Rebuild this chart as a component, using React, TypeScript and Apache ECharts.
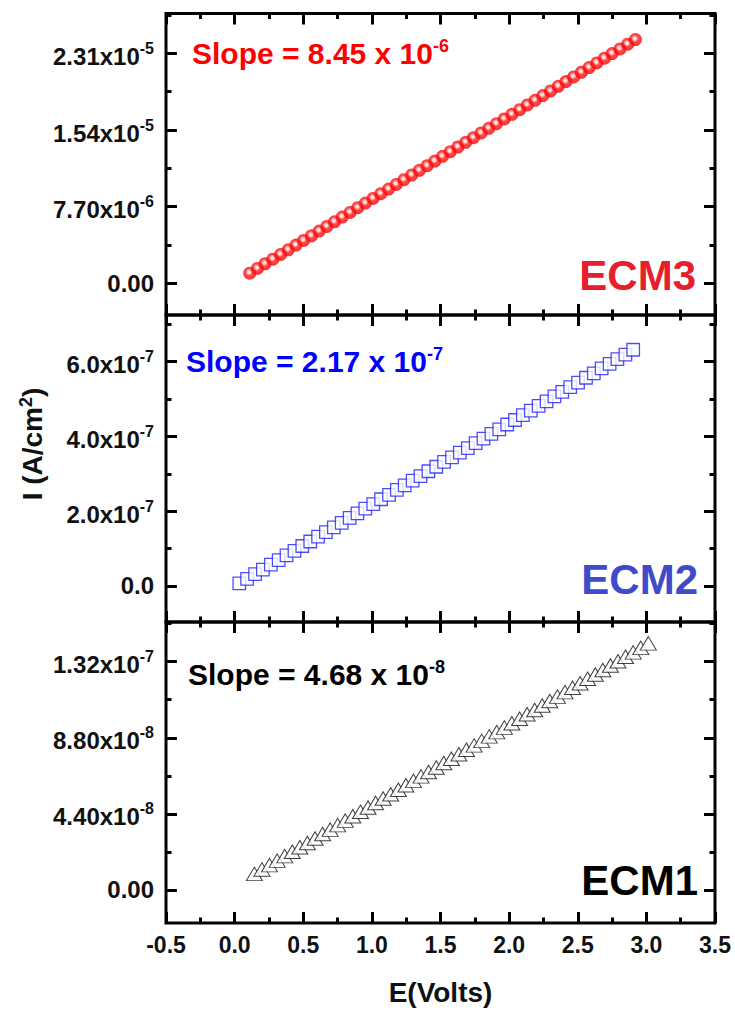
import React, { useEffect, useRef } from "react";
import * as echarts from "echarts";

const FONT = "'Liberation Sans', Arial, Helvetica, sans-serif";

// ---------- shared x axis ----------
const xMin = -0.5;
const xMax = 3.5;
const xStep = 0.5;
const xTickLabels = ["-0.5", "0.0", "0.5", "1.0", "1.5", "2.0", "2.5", "3.0", "3.5"];
const xTitle = "E(Volts)";

// ---------- ECM3 (top panel, red circles) ----------
const ecm3Volts = [
  0.110, 0.166, 0.222, 0.279, 0.335, 0.391, 0.447, 0.503, 0.560, 0.616,
  0.672, 0.728, 0.784, 0.841, 0.897, 0.953, 1.009, 1.065, 1.122, 1.178,
  1.234, 1.290, 1.346, 1.403, 1.459, 1.515, 1.571, 1.627, 1.684, 1.740,
  1.796, 1.852, 1.908, 1.965, 2.021, 2.077, 2.133, 2.189, 2.246, 2.302,
  2.358, 2.414, 2.470, 2.527, 2.583, 2.639, 2.695, 2.751, 2.808, 2.864, 2.920,
];
// current in units of 1e-6 A/cm2
const ecm3Current = [
  1.00, 1.47, 1.94, 2.41, 2.88, 3.35, 3.82, 4.29, 4.76, 5.23,
  5.70, 6.17, 6.64, 7.11, 7.58, 8.05, 8.52, 8.99, 9.46, 9.93,
  10.40, 10.87, 11.34, 11.81, 12.28, 12.75, 13.22, 13.69, 14.16, 14.63,
  15.10, 15.57, 16.04, 16.51, 16.98, 17.45, 17.92, 18.39, 18.86, 19.33,
  19.80, 20.27, 20.74, 21.21, 21.68, 22.15, 22.62, 23.09, 23.56, 24.03, 24.50,
];
const ecm3Unit = 1e-6;
const ecm3YMin = -3.21e-6;
const ecm3YMax = 2.712e-5;
const ecm3Ticks = [0, 7.7e-6, 1.54e-5, 2.31e-5];
const ecm3TickText = ["0.00", "7.70x10", "1.54x10", "2.31x10"];
const ecm3TickExp = ["", "-6", "-5", "-5"];
const ecm3MinorTicks = [3.85e-6, 1.155e-5, 1.925e-5, 2.695e-5];
const ecm3Slope = ["Slope = 8.45 x 10", "-6"];
const ecm3Name = "ECM3";

// ---------- ECM2 (middle panel, blue open squares) ----------
const ecm2Volts = [
  0.034, 0.091, 0.149, 0.206, 0.264, 0.321, 0.378, 0.436, 0.493, 0.551,
  0.608, 0.665, 0.723, 0.780, 0.838, 0.895, 0.952, 1.010, 1.067, 1.125,
  1.182, 1.239, 1.297, 1.354, 1.412, 1.469, 1.526, 1.584, 1.641, 1.699,
  1.756, 1.813, 1.871, 1.928, 1.986, 2.043, 2.100, 2.158, 2.215, 2.273,
  2.330, 2.387, 2.445, 2.502, 2.560, 2.617, 2.674, 2.732, 2.789, 2.847, 2.904,
];
// current in units of 1e-7 A/cm2
const ecm2Current = [
  0.07, 0.19, 0.32, 0.44, 0.57, 0.69, 0.82, 0.94, 1.07, 1.19,
  1.32, 1.44, 1.57, 1.69, 1.82, 1.94, 2.07, 2.19, 2.32, 2.44,
  2.57, 2.69, 2.82, 2.94, 3.07, 3.19, 3.32, 3.44, 3.57, 3.69,
  3.82, 3.94, 4.07, 4.19, 4.32, 4.44, 4.57, 4.69, 4.82, 4.94,
  5.07, 5.19, 5.32, 5.44, 5.57, 5.69, 5.82, 5.94, 6.07, 6.19, 6.32,
];
const ecm2Unit = 1e-7;
const ecm2YMin = -0.963e-7;
const ecm2YMax = 7.249e-7;
const ecm2Ticks = [0, 2e-7, 4e-7, 6e-7];
const ecm2TickText = ["0.0", "2.0x10", "4.0x10", "6.0x10"];
const ecm2TickExp = ["", "-7", "-7", "-7"];
const ecm2MinorTicks = [1e-7, 3e-7, 5e-7, 7e-7];
const ecm2Slope = ["Slope = 2.17 x 10", "-7"];
const ecm2Name = "ECM2";

// ---------- ECM1 (bottom panel, black open triangles) ----------
const ecm1Volts = [
  0.144, 0.199, 0.254, 0.310, 0.365, 0.420, 0.475, 0.530, 0.586, 0.641,
  0.696, 0.751, 0.806, 0.861, 0.917, 0.972, 1.027, 1.082, 1.137, 1.193,
  1.248, 1.303, 1.358, 1.413, 1.469, 1.524, 1.579, 1.634, 1.689, 1.745,
  1.800, 1.855, 1.910, 1.965, 2.020, 2.076, 2.131, 2.186, 2.241, 2.296,
  2.352, 2.407, 2.462, 2.517, 2.572, 2.628, 2.683, 2.738, 2.793, 2.848,
  2.904, 2.959, 3.014,
];
// current in units of 1e-8 A/cm2
const ecm1Current = [
  0.93, 1.19, 1.44, 1.70, 1.96, 2.21, 2.47, 2.72, 2.98, 3.24,
  3.49, 3.75, 4.01, 4.26, 4.52, 4.77, 5.03, 5.29, 5.54, 5.80,
  6.06, 6.31, 6.57, 6.82, 7.08, 7.34, 7.59, 7.85, 8.11, 8.36,
  8.62, 8.88, 9.13, 9.39, 9.64, 9.90, 10.16, 10.41, 10.67, 10.93,
  11.18, 11.44, 11.69, 11.95, 12.21, 12.46, 12.72, 12.98, 13.23, 13.49,
  13.74, 14.00, 14.26,
];
const ecm1Unit = 1e-8;
const ecm1YMin = -1.908e-8;
const ecm1YMax = 1.5495e-7;
const ecm1Ticks = [0, 4.4e-8, 8.8e-8, 1.32e-7];
const ecm1TickText = ["0.00", "4.40x10", "8.80x10", "1.32x10"];
const ecm1TickExp = ["", "-8", "-8", "-7"];
const ecm1MinorTicks = [2.2e-8, 6.6e-8, 1.1e-7, 1.54e-7];
const ecm1Slope = ["Slope = 4.68 x 10", "-8"];
const ecm1Name = "ECM1";

// ---------- layout / style ----------
const GRID_LEFT = 166;
const GRID_WIDTH = 549;
const panelLayout = [
  { top: 13.5, height: 301.5 },
  { top: 315, height: 307 },
  { top: 622, height: 301 },
];

const panels = [
  {
    volts: ecm3Volts, current: ecm3Current, unit: ecm3Unit, yMin: ecm3YMin, yMax: ecm3YMax,
    ticks: ecm3Ticks, tickText: ecm3TickText, tickExp: ecm3TickExp, minor: ecm3MinorTicks,
    slope: ecm3Slope, name: ecm3Name,
  },
  {
    volts: ecm2Volts, current: ecm2Current, unit: ecm2Unit, yMin: ecm2YMin, yMax: ecm2YMax,
    ticks: ecm2Ticks, tickText: ecm2TickText, tickExp: ecm2TickExp, minor: ecm2MinorTicks,
    slope: ecm2Slope, name: ecm2Name,
  },
  {
    volts: ecm1Volts, current: ecm1Current, unit: ecm1Unit, yMin: ecm1YMin, yMax: ecm1YMax,
    ticks: ecm1Ticks, tickText: ecm1TickText, tickExp: ecm1TickExp, minor: ecm1MinorTicks,
    slope: ecm1Slope, name: ecm1Name,
  },
];

const slopeStyle = [
  { x: 192, y: 53, color: "#ff0000" },
  { x: 186, y: 361, color: "#0000ff" },
  { x: 188, y: 674, color: "#000000" },
];
const nameStyle = [
  { x: 696, y: 275, color: "#e5202a" },
  { x: 698, y: 579, color: "#3e4bcb" },
  { x: 698, y: 880, color: "#000000" },
];

const seriesStyle: any[] = [
  {
    symbol: "circle",
    symbolSize: 13,
    itemStyle: {
      color: {
        type: "radial", x: 0.45, y: 0.42, r: 0.6,
        colorStops: [
          { offset: 0, color: "#ffffff" },
          { offset: 0.2, color: "#ffc0c0" },
          { offset: 0.45, color: "#ff1a1a" },
          { offset: 1, color: "#f00000" },
        ],
      },
      borderWidth: 0,
    },
  },
  {
    symbol: "rect",
    symbolSize: 12.5,
    itemStyle: { color: "#ffffff", borderColor: "#1f1fff", borderWidth: 1.3 },
  },
  {
    symbol: "triangle",
    symbolSize: [16, 13.5],
    itemStyle: { color: "#ffffff", borderColor: "#111111", borderWidth: 1 },
  },
];

const TICK_W = 3;
const MAJOR_LEN = 11;
const MINOR_LEN = 5.5;

function buildOption() {
  const grids: any[] = [];
  const xAxes: any[] = [];
  const yAxes: any[] = [];
  const series: any[] = [];
  const graphics: any[] = [];

  panels.forEach((p, i) => {
    grids.push({
      left: GRID_LEFT,
      width: GRID_WIDTH,
      top: panelLayout[i].top,
      height: panelLayout[i].height,
      show: true,
      borderWidth: 3,
      borderColor: "#000",
      backgroundColor: "transparent",
      containLabel: false,
    });

    const xBase = (pos: string, showLabel: boolean) => ({
      type: "value",
      gridIndex: i,
      position: pos,
      min: xMin,
      max: xMax,
      interval: xStep,
      axisLine: { show: false, onZero: false },
      axisTick: { show: true, inside: true, length: MAJOR_LEN, lineStyle: { color: "#000", width: TICK_W } },
      minorTick: { show: true, splitNumber: 2, length: MINOR_LEN, lineStyle: { color: "#000", width: TICK_W } },
      splitLine: { show: false },
      minorSplitLine: { show: false },
      axisLabel: {
        show: showLabel,
        margin: 10,
        fontFamily: FONT,
        fontWeight: "bold",
        fontSize: 23,
        color: "#111",
        formatter: (v: number) => {
          const k = Math.round((v - xMin) / xStep);
          return xTickLabels[k] ?? "";
        },
      },
    });
    xAxes.push(xBase("bottom", i === 2));
    xAxes.push(xBase("top", false));

    const labelFormatter = (v: number) => {
      const eps = Math.abs(p.ticks[1]) * 1e-3;
      const k = p.ticks.findIndex((t) => Math.abs(t - v) < eps);
      if (k < 0) return "";
      const m = p.tickText[k];
      const e = p.tickExp[k];
      return e ? `{mp|${m}}{e|${e}}` : `{m|${m}}`;
    };

    const yBase = (pos: string, values: number[], len: number, showLabel: boolean) => ({
      type: "value",
      gridIndex: i,
      position: pos,
      min: p.yMin,
      max: p.yMax,
      axisLine: { show: false, onZero: false },
      axisTick: {
        show: true, inside: true, length: len, customValues: values,
        lineStyle: { color: "#000", width: TICK_W },
      },
      splitLine: { show: false },
      axisLabel: showLabel
        ? {
            show: true,
            customValues: p.ticks,
            margin: 12,
            formatter: labelFormatter,
            rich: {
              m: { fontFamily: FONT, fontWeight: "bold", fontSize: 24, lineHeight: 26, color: "#111" },
              mp: {
                fontFamily: FONT, fontWeight: "bold", fontSize: 24, lineHeight: 26, color: "#111",
                padding: [6, 0, 0, 0],
              },
              e: {
                fontFamily: FONT, fontWeight: "bold", fontSize: 16, lineHeight: 16, color: "#111",
                verticalAlign: "top",
              },
            },
          }
        : { show: false },
    });
    yAxes.push(yBase("left", p.ticks, MAJOR_LEN, true));
    yAxes.push(yBase("left", p.minor, MINOR_LEN, false));
    yAxes.push(yBase("right", p.ticks, MAJOR_LEN, false));
    yAxes.push(yBase("right", p.minor, MINOR_LEN, false));

    series.push({
      type: "scatter",
      name: p.name,
      xAxisIndex: i * 2,
      yAxisIndex: i * 4,
      data: p.volts.map((x, k) => [x, p.current[k] * p.unit]),
      ...seriesStyle[i],
      z: 3,
    });

    const s = slopeStyle[i];
    graphics.push({
      type: "text",
      x: s.x,
      y: s.y,
      z: 10,
      style: {
        text: `{a|${p.slope[0]}}{b|${p.slope[1]}}`,
        align: "left",
        verticalAlign: "middle",
        rich: {
          a: { fontFamily: FONT, fontWeight: "bold", fontSize: 30, lineHeight: 32, fill: s.color },
          b: { fontFamily: FONT, fontWeight: "bold", fontSize: 18, lineHeight: 18, fill: s.color, verticalAlign: "top" },
        },
      },
    });

    const n = nameStyle[i];
    graphics.push({
      type: "text",
      x: n.x,
      y: n.y,
      z: 10,
      style: {
        text: p.name,
        align: "right",
        verticalAlign: "middle",
        fontFamily: FONT,
        fontWeight: "bold",
        fontSize: 42,
        fill: n.color,
      },
    });
  });

  graphics.push({
    type: "text",
    x: GRID_LEFT + GRID_WIDTH / 2,
    y: 992,
    style: {
      text: xTitle,
      align: "center",
      verticalAlign: "middle",
      fontFamily: FONT,
      fontWeight: "bold",
      fontSize: 28,
      fill: "#111",
    },
  });
  graphics.push({
    type: "text",
    x: 32,
    y: 444,
    rotation: Math.PI / 2,
    style: {
      text: "{a|I (A/cm}{b|2}{a|)}",
      align: "center",
      verticalAlign: "middle",
      rich: {
        a: { fontFamily: FONT, fontWeight: "bold", fontSize: 28, lineHeight: 30, fill: "#111" },
        b: { fontFamily: FONT, fontWeight: "bold", fontSize: 18, lineHeight: 18, fill: "#111", verticalAlign: "top" },
      },
    },
  });

  return {
    animation: false,
    backgroundColor: "#ffffff",
    grid: grids,
    xAxis: xAxes,
    yAxis: yAxes,
    series,
    graphic: graphics,
  };
}

export default function App() {
  const ref = useRef<HTMLDivElement | null>(null);
  useEffect(() => {
    if (!ref.current) return;
    const chart = echarts.init(ref.current, undefined, { renderer: "svg" });
    chart.setOption(buildOption() as any);
    return () => chart.dispose();
  }, []);
  return (
    <div
      ref={ref}
      style={{ position: "absolute", left: 0, top: 0, width: 735, height: 1010, background: "#fff" }}
    />
  );
}
